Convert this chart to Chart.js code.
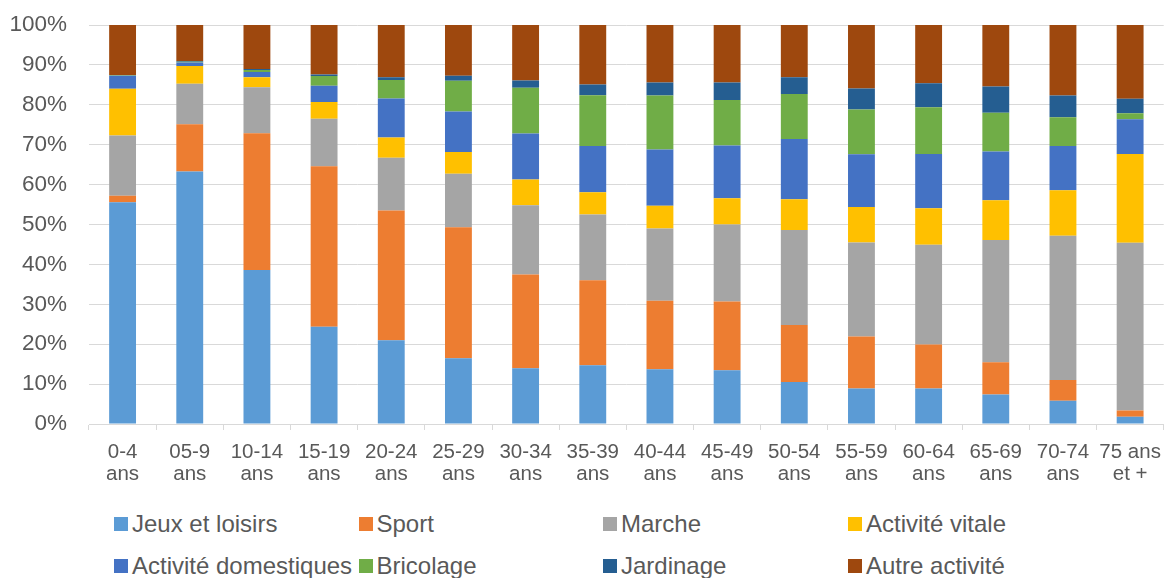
<!DOCTYPE html>
<html>
<head>
<meta charset="utf-8">
<script src="https://cdn.jsdelivr.net/npm/chart.js@4/dist/chart.umd.min.js"></script>
<style>
  html, body { margin: 0; padding: 0; background: #ffffff; }
  #wrap { position: relative; width: 1172px; height: 578px; overflow: hidden; font-family: "Liberation Sans", Arial, sans-serif; }
  #c { position: absolute; left: 0; top: 0; }
  .leg { position: absolute; display: flex; align-items: center; font-size: 24px; color: #595959; white-space: nowrap; line-height: 1; }
  .leg i { display: inline-block; width: 14px; height: 14px; margin-right: 4px; }
</style>
</head>
<body>
<div id="wrap">
  <canvas id="c" width="1172" height="490"></canvas>
  <div id="legend"></div>
</div>
<script>
const categories = ["0-4 ans","05-9 ans","10-14 ans","15-19 ans","20-24 ans","25-29 ans","30-34 ans","35-39 ans","40-44 ans","45-49 ans","50-54 ans","55-59 ans","60-64 ans","65-69 ans","70-74 ans","75 ans et +"];
const tickLabels = [["0-4","ans"],["05-9","ans"],["10-14","ans"],["15-19","ans"],["20-24","ans"],["25-29","ans"],["30-34","ans"],["35-39","ans"],["40-44","ans"],["45-49","ans"],["50-54","ans"],["55-59","ans"],["60-64","ans"],["65-69","ans"],["70-74","ans"],["75 ans","et +"]];
const seriesNames = ["Jeux et loisirs","Sport","Marche","Activité vitale","Activité domestiques","Bricolage","Jardinage","Autre activité"];
const jeux        = [55.6, 63.3, 38.6, 24.4, 21.0, 16.5, 14.0, 14.7, 13.7, 13.5, 10.5, 8.9, 8.9, 7.4, 5.8, 1.8];
const sport       = [1.6, 11.8, 34.3, 40.2, 32.5, 32.8, 23.5, 21.3, 17.2, 17.2, 14.3, 13.0, 11.0, 8.1, 5.2, 1.6];
const marche      = [15.1, 10.2, 11.5, 11.9, 13.2, 13.4, 17.3, 16.5, 18.1, 19.3, 23.8, 23.6, 25.0, 30.6, 36.2, 42.0];
const vitale      = [11.7, 4.4, 2.5, 4.2, 5.1, 5.5, 6.5, 5.6, 5.7, 6.6, 7.7, 8.9, 9.2, 10.0, 11.4, 22.3];
const domestiques = [3.3, 0.9, 1.3, 4.1, 9.8, 10.1, 11.5, 11.6, 14.1, 13.2, 15.1, 13.2, 13.6, 12.2, 11.1, 8.7];
const bricolage   = [0.1, 0.2, 0.5, 2.4, 4.6, 7.7, 11.5, 12.7, 13.5, 11.4, 11.3, 11.2, 11.7, 9.7, 7.2, 1.5];
const jardinage   = [0.1, 0.2, 0.3, 0.4, 0.7, 1.3, 1.8, 2.7, 3.3, 4.4, 4.2, 5.3, 6.0, 6.6, 5.4, 3.6];
const autre       = [12.5, 9.0, 11.0, 12.4, 13.1, 12.7, 13.9, 14.9, 14.4, 14.4, 13.1, 15.9, 14.6, 15.4, 17.7, 18.5];
const yTicks = [0,10,20,30,40,50,60,70,80,90,100];

const seriesData = [jeux, sport, marche, vitale, domestiques, bricolage, jardinage, autre];
const colors = ["#5B9BD5","#ED7D31","#A5A5A5","#FFC000","#4472C4","#70AD47","#255E91","#9E480E"];

const datasets = seriesData.map((d, i) => ({
  label: seriesNames[i],
  data: d,
  backgroundColor: colors[i],
  borderWidth: 0,
  barPercentage: 0.4,
  categoryPercentage: 1.0
}));

const FONT = '"Liberation Sans", Arial, sans-serif';
new Chart(document.getElementById('c'), {
  type: 'bar',
  data: { labels: tickLabels, datasets },
  options: {
    responsive: false,
    animation: false,
    layout: { padding: { top: 25, right: 3, left: 0, bottom: 0 } },
    plugins: { legend: { display: false }, tooltip: { enabled: false } },
    scales: {
      x: {
        stacked: true,
        afterFit: s => { s.height = 66; },
        grid: { display: true, drawOnChartArea: false, drawTicks: true, tickLength: 6, color: '#d9d9d9', offset: true },
        border: { display: true, color: '#d9d9d9', width: 1 },
        ticks: { color: '#595959', font: { family: FONT, size: 20.5, lineHeight: 1.1 }, padding: 11, maxRotation: 0, autoSkip: false }
      },
      y: {
        stacked: true,
        min: 0, max: 100,
        afterFit: s => { s.width = 89; s.paddingTop = 12; s.paddingBottom = 12; },
        afterBuildTicks: s => { s.ticks = yTicks.map(v => ({ value: v })); },
        grid: { color: '#d9d9d9', lineWidth: 1, drawTicks: false },
        border: { display: false },
        ticks: { color: '#595959', font: { family: FONT, size: 22.5 }, padding: 22, callback: v => v + '%' }
      }
    }
  }
});

// HTML legend (4 columns x 2 rows)
const legend = document.getElementById('legend');
const colX = [114, 358.5, 603, 848];
const rowY = [524, 566];
seriesNames.forEach((name, i) => {
  const el = document.createElement('div');
  el.className = 'leg';
  el.style.left = colX[i % 4] + 'px';
  el.style.top = (rowY[Math.floor(i / 4)] - 12) + 'px';
  el.style.height = '24px';
  el.innerHTML = '<i style="background:' + colors[i] + '"></i><span>' + name + '</span>';
  legend.appendChild(el);
});
</script>
</body>
</html>
